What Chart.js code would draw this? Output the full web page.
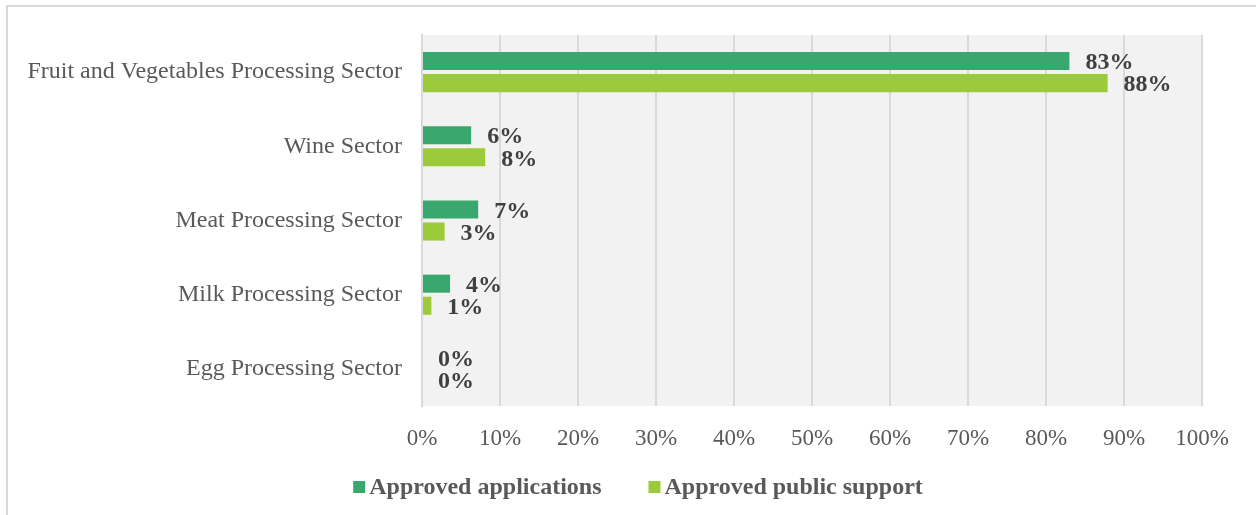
<!DOCTYPE html>
<html lang="en">
<head>
    <meta charset="UTF-8">
    <title>Approved applications by sector</title>
    <style>
        body { margin: 0; background: #fff; }
        #frame { position: absolute; left: 6px; top: 5px; width: 1400px; height: 600px; border-left: 2px solid #d9d9d9; border-top: 2px solid #d9d9d9; }
        #wrap { position: absolute; left: 0; top: 0; width: 1256px; height: 515px; }
    </style>
</head>
<body>
    <div id="frame"></div>
    <div id="wrap"><canvas id="myChart"></canvas></div>

    <script src="https://cdn.jsdelivr.net/npm/chart.js"></script>
    <script>
        // sectors, top to bottom
        let v_sectors = ['Fruit and Vegetables Processing Sector', 'Wine Sector', 'Meat Processing Sector', 'Milk Processing Sector', 'Egg Processing Sector'];
        // shares in %
        let v_applications = [83, 6.3, 7.2, 3.6, 0];
        let v_support = [87.9, 8.1, 2.9, 1.2, 0];
        // rounded numbers shown next to the bars
        let v_appLabels = ['83%', '6%', '7%', '4%', '0%'];
        let v_supLabels = ['88%', '8%', '3%', '1%', '0%'];
        let v_ticks = [0, 10, 20, 30, 40, 50, 60, 70, 80, 90, 100];

        const serif = "'Liberation Serif', 'Times New Roman', serif";

        // grey plot background
        const plotBg = {
            id: 'plotBg',
            beforeDraw(chart) {
                const a = chart.chartArea;
                const c = chart.ctx;
                c.save();
                c.fillStyle = '#f2f2f2';
                c.fillRect(a.left, a.top, a.right - a.left, a.bottom - a.top);
                c.restore();
            }
        };

        // value labels outside bar ends
        const valueLabels = {
            id: 'valueLabels',
            afterDatasetsDraw(chart) {
                const c = chart.ctx;
                c.save();
                c.font = 'bold 24px ' + serif;
                c.fillStyle = '#404040';
                c.textAlign = 'left';
                c.textBaseline = 'middle';
                chart.data.datasets.forEach((ds, i) => {
                    chart.getDatasetMeta(i).data.forEach((bar, j) => {
                        c.fillText(ds.labelsText[j], bar.x + 16, bar.y + 2);
                    });
                });
                c.restore();
            }
        };

        // legend under the axis, centred like the original
        const bottomLegend = {
            id: 'bottomLegend',
            afterDraw(chart) {
                const c = chart.ctx;
                const sets = chart.data.datasets;
                const box = 12, gap = 4, spacing = 47, cx = 638, cy = 487;
                c.save();
                c.font = 'bold 24px ' + serif;
                c.textBaseline = 'middle';
                c.textAlign = 'left';
                const widths = sets.map(ds => c.measureText(ds.label).width);
                let total = widths.reduce((a, w) => a + box + gap + w, 0) + spacing * (sets.length - 1);
                let x = cx - total / 2;
                sets.forEach((ds, i) => {
                    c.fillStyle = ds.backgroundColor;
                    c.fillRect(x, cy - box / 2, box, box);
                    c.fillStyle = '#595959';
                    c.fillText(ds.label, x + box + gap, cy + 1);
                    x += box + gap + widths[i] + spacing;
                });
                c.restore();
            }
        };

        const ctx = document.getElementById('myChart');

        new Chart(ctx, {
            type: 'bar',
            data: {
                labels: v_sectors,
                datasets: [{
                    label: 'Approved applications',
                    data: v_applications,
                    labelsText: v_appLabels,
                    backgroundColor: '#38a86f',
                    categoryPercentage: 0.595,
                    barPercentage: 0.818
                }, {
                    label: 'Approved public support',
                    data: v_support,
                    labelsText: v_supLabels,
                    backgroundColor: '#9bcb3a',
                    categoryPercentage: 0.595,
                    barPercentage: 0.818
                }]
            },
            options: {
                indexAxis: 'y',
                responsive: true,
                maintainAspectRatio: false,
                animation: false,
                layout: { padding: { top: 35, right: 0, left: 20, bottom: 6 } },
                scales: {
                    x: {
                        min: 0,
                        max: 100,
                        afterBuildTicks: (s) => { s.ticks = v_ticks.map(v => ({ value: v })); },
                        afterFit: (s) => { s.height = 103; },
                        grid: { color: '#d9d9d9', lineWidth: 2, drawTicks: false },
                        border: { display: false },
                        ticks: {
                            padding: 19,
                            color: '#595959',
                            font: { family: serif, size: 23 },
                            callback: (v) => v + '%'
                        }
                    },
                    y: {
                        afterFit: (s) => { s.width = 402; },
                        grid: { display: false, drawTicks: false },
                        border: { display: true, color: '#d9d9d9', width: 2 },
                        ticks: {
                            padding: 20,
                            color: '#595959',
                            font: { family: serif, size: 24 }
                        }
                    },
                    // empty right margin
                    y2: {
                        type: 'category',
                        position: 'right',
                        afterFit: (s) => { s.width = 54; },
                        grid: { display: false, drawTicks: false },
                        border: { display: false },
                        ticks: { display: false }
                    }
                },
                plugins: {
                    legend: { display: false },
                    tooltip: { enabled: false }
                }
            },
            plugins: [plotBg, valueLabels, bottomLegend]
        });
    </script>
</body>
</html>
